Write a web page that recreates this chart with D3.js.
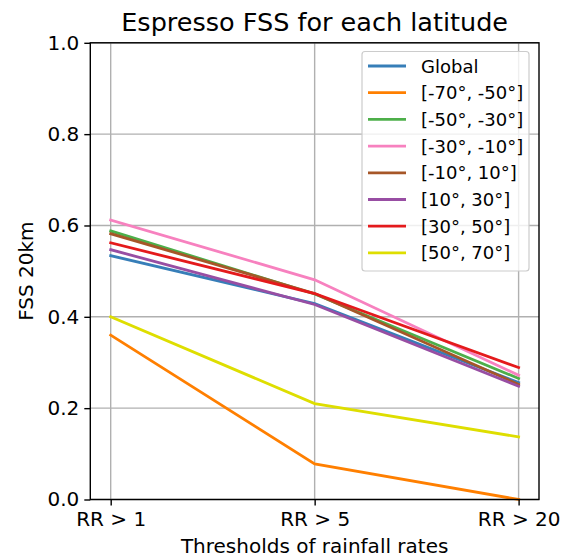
<!DOCTYPE html>
<html><head><meta charset="utf-8">
<script src="https://cdn.jsdelivr.net/npm/d3@7"></script>
<style>body{margin:0;background:#fff}svg{display:block;font-family:"DejaVu Sans",sans-serif}</style>
</head><body>
<script>
const categories = ["RR > 1", "RR > 5", "RR > 20"];
const seriesNames = ["Global", "[-70°, -50°]", "[-50°, -30°]", "[-30°, -10°]", "[-10°, 10°]", "[10°, 30°]", "[30°, 50°]", "[50°, 70°]"];
const global = [0.534, 0.429, 0.256];
const lat70_50S = [0.360, 0.078, 0.0];
const lat50_30S = [0.588, 0.450, 0.265];
const lat30_10S = [0.612, 0.481, 0.272];
const lat10S_10N = [0.582, 0.451, 0.252];
const lat10_30N = [0.547, 0.427, 0.248];
const lat30_50N = [0.562, 0.451, 0.289];
const lat50_70N = [0.400, 0.210, 0.137];
const yTicks = [0.0, 0.2, 0.4, 0.6, 0.8, 1.0];
const colors = ["#377eb8", "#ff7f00", "#4daf4a", "#f781bf", "#a65628", "#984ea3", "#e41a1c", "#dede00"];
const seriesValues = [global, lat70_50S, lat50_30S, lat30_10S, lat10S_10N, lat10_30N, lat30_50N, lat50_70N];

const W = 565, H = 558;
const L = 90.3, R = 539, T = 42.8, B = 499.5;
const svg = d3.select("body").append("svg").attr("width", W).attr("height", H);

const x = d3.scaleLinear().domain([-0.1, 2.1]).range([L, R]);
const y = d3.scaleLinear().domain([0, 1]).range([B, T]);

// grid
const g = svg.append("g");
g.selectAll(".gx").data(categories).enter().append("line")
  .attr("x1", (d, i) => x(i)).attr("x2", (d, i) => x(i)).attr("y1", T).attr("y2", B)
  .attr("stroke", "#b0b0b0").attr("stroke-width", 1.4);
g.selectAll(".gy").data(yTicks).enter().append("line")
  .attr("x1", L).attr("x2", R).attr("y1", d => y(d)).attr("y2", d => y(d))
  .attr("stroke", "#b0b0b0").attr("stroke-width", 1.4);

// lines
const line = d3.line().x((d, i) => x(i)).y(d => y(d));
seriesValues.forEach((vals, k) => {
  svg.append("path").datum(vals).attr("d", line).attr("fill", "none")
    .attr("stroke", colors[k]).attr("stroke-width", 2.8).attr("stroke-linecap", "square");
});

// axes
const xAxis = d3.axisBottom(x).tickValues([0, 1, 2]).tickFormat((d) => categories[d]).tickSize(6).tickPadding(4);
const yAxis = d3.axisLeft(y).tickValues(yTicks).tickFormat(d3.format(".1f")).tickSize(6).tickPadding(5);
const gx = svg.append("g").attr("transform", `translate(0,${B})`).call(xAxis);
const gy = svg.append("g").attr("transform", `translate(${L},0)`).call(yAxis);
[gx, gy].forEach(a => {
  a.select(".domain").remove();
  a.selectAll("text").attr("font-size", 20).attr("font-family", "DejaVu Sans").attr("fill", "#000");
  a.selectAll("line").attr("stroke", "#000").attr("stroke-width", 1.4);
});
gx.selectAll("text").attr("dy", "0.8em");

svg.append("rect").attr("x", L).attr("y", T).attr("width", R - L).attr("height", B - T)
  .attr("fill", "none").attr("stroke", "#000").attr("stroke-width", 1.4);

// title & labels
svg.append("text").attr("x", (L + R) / 2).attr("y", 31).attr("text-anchor", "middle")
  .attr("font-size", 25.5).text("Espresso FSS for each latitude");
svg.append("text").attr("x", (L + R) / 2).attr("y", 553).attr("text-anchor", "middle")
  .attr("font-size", 20).text("Thresholds of rainfall rates");
svg.append("text").attr("transform", `translate(33,${(T + B) / 2}) rotate(-90)`).attr("text-anchor", "middle")
  .attr("font-size", 20).text("FSS 20km");

// legend
const lg = svg.append("g");
lg.append("rect").attr("x", 362).attr("y", 51.5).attr("width", 167).attr("height", 219.5)
  .attr("rx", 3).attr("fill", "#fff").attr("fill-opacity", 0.8).attr("stroke", "#cccccc").attr("stroke-width", 1.2);
seriesNames.forEach((name, k) => {
  const cy = 66 + k * 26.7;
  lg.append("line").attr("x1", 368).attr("x2", 406).attr("y1", cy).attr("y2", cy)
    .attr("stroke", colors[k]).attr("stroke-width", 2.8);
  lg.append("text").attr("x", 421).attr("y", cy + 6.5).attr("font-size", 18).text(name);
});
</script>
</body></html>
